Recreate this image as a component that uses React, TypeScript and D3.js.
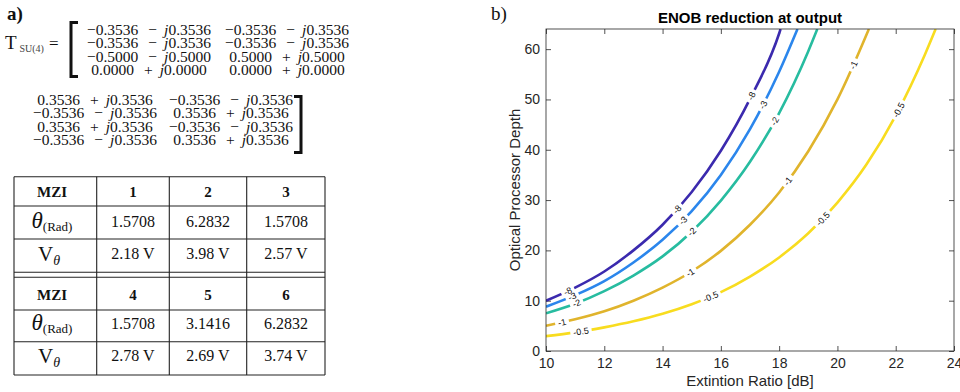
import * as d3 from "d3";
import { useEffect, useRef } from "react";

// ---- panel b data ----
const xTicks = [10, 12, 14, 16, 18, 20, 22, 24];
const yTicks = [0, 10, 20, 30, 40, 50, 60];

const levelNames = ["-8", "-3", "-2", "-1", "-0.5"];
const levelColors = ["#3b2aae", "#2b86ec", "#27bca0", "#e0b42c", "#f8dc1f"];

const erLevel8 = [10, 11, 12, 13, 14, 15, 16, 17, 18, 18.05];
const depthLevel8 = [10, 12.6, 15.8, 20.0, 25.1, 31.6, 39.8, 50.1, 63.1, 64];
const erLevel3 = [10, 11, 12, 13, 14, 15, 16, 17, 18, 18.63];
const depthLevel3 = [8.8, 11.1, 13.9, 17.6, 22.1, 27.8, 35.0, 44.1, 55.5, 64];
const erLevel2 = [10, 11, 12, 13, 14, 15, 16, 17, 18, 19, 19.31];
const depthLevel2 = [7.5, 9.4, 11.9, 15.0, 18.8, 23.7, 29.9, 37.6, 47.3, 59.6, 64];
const erLevel1 = [10, 11, 12, 13, 14, 15, 16, 17, 18, 19, 20, 21, 21.08];
const depthLevel1 = [5.0, 6.3, 7.9, 10.0, 12.6, 15.8, 19.9, 25.1, 31.5, 39.7, 50.0, 62.9, 64];
const erLevel05 = [10, 11, 12, 13, 14, 15, 16, 17, 18, 19, 20, 21, 22, 23, 23.37];
const depthLevel05 = [2.95, 3.7, 4.7, 5.9, 7.4, 9.3, 11.7, 14.8, 18.6, 23.4, 29.5, 37.1, 46.8, 58.9, 64];

const levelErs = [erLevel8, erLevel3, erLevel2, erLevel1, erLevel05];
const levelDepths = [depthLevel8, depthLevel3, depthLevel2, depthLevel1, depthLevel05];
// where the inline labels sit (extinction ratio)
const labelErs = [
	[10.75, 14.5, 17.05],
	[10.9, 14.7, 17.45],
	[11.05, 15.0, 17.85],
	[10.55, 14.95, 18.3, 20.55],
	[11.2, 15.65, 19.5, 22.1],
];

// ---- panel a data ----
const matrixLeft = [
	[["−0.3536", "−", "0.3536"], ["−0.3536", "−", "0.3536"]],
	[["−0.3536", "−", "0.3536"], ["−0.3536", "−", "0.3536"]],
	[["−0.5000", "−", "0.5000"], ["0.5000", "+", "0.5000"]],
	[["0.0000", "+", "0.0000"], ["0.0000", "+", "0.0000"]],
];
const matrixRight = [
	[["0.3536", "+", "0.3536"], ["−0.3536", "−", "0.3536"]],
	[["−0.3536", "−", "0.3536"], ["0.3536", "+", "0.3536"]],
	[["0.3536", "+", "0.3536"], ["−0.3536", "−", "0.3536"]],
	[["−0.3536", "−", "0.3536"], ["0.3536", "+", "0.3536"]],
];
const mziIds = [["1", "2", "3"], ["4", "5", "6"]];
const mziThetas = [["1.5708", "6.2832", "1.5708"], ["1.5708", "3.1416", "6.2832"]];
const mziVolts = [["2.18 V", "3.98 V", "2.57 V"], ["2.78 V", "2.69 V", "3.74 V"]];

const SERIF = "'Liberation Serif', 'Times New Roman', serif";
const SANS = "'Liberation Sans', Arial, Helvetica, sans-serif";

function Entry({ x, y, e }: { x: number; y: number; e: string[] }) {
	return (
		<text x={x} y={y} textAnchor="middle" fontSize={15.5}>
			<tspan>{e[0]}</tspan><tspan dx={10}>{e[1]}</tspan><tspan dx={7} fontStyle="italic">j</tspan><tspan>{e[2]}</tspan>
		</text>
	);
}

function PanelA() {
	const colX = [14, 96.7, 169.3, 246.7, 325];
	const colC = [52, 133, 208, 286];
	const tableTop = 176.7, tableBottom = 375;
	const halves = [
		{ lines: [176.7, 206, 239, 272.3], base: [197, 227, 259] },
		{ lines: [277.3, 310, 341.7, 375], base: [300, 329, 361] },
	];
	return (
		<g fontFamily={SERIF} fill="#111">
			<text x={7} y={20} fontSize={19} fontWeight="bold">a)</text>
			<text x={5} y={49} fontSize={19}>T</text>
			<text x={19.5} y={52} fontSize={10} fill="#444">SU(4)</text>
			<text x={49} y={49} fontSize={17}>=</text>
			<path d="M78,22.5H71V76.5H78" fill="none" stroke="#111" strokeWidth={3} />
			{matrixLeft.map((row, i) =>
				row.map((e, j) => <Entry key={`l${i}${j}`} x={[149, 287][j]} y={35 + i * 13.3} e={e} />)
			)}
			{matrixRight.map((row, i) =>
				row.map((e, j) => <Entry key={`r${i}${j}`} x={[95, 231][j]} y={105 + i * 13.3} e={e} />)
			)}
			<path d="M294,96.5H301V152.5H294" fill="none" stroke="#111" strokeWidth={3} />

			{colX.map((cx) => (
				<line key={cx} x1={cx} x2={cx} y1={tableTop} y2={tableBottom} stroke="#222" strokeWidth={1.1} />
			))}
			{halves.map((h, k) => (
				<g key={k}>
					{h.lines.map((ly) => (
						<line key={ly} x1={colX[0]} x2={colX[4]} y1={ly} y2={ly} stroke="#222" strokeWidth={1.1} />
					))}
					<text x={colC[0]} y={h.base[0]} textAnchor="middle" fontSize={15} fontWeight="bold">MZI</text>
					<text x={colC[0]} y={h.base[1] + 1} textAnchor="middle">
						<tspan fontSize={23} fontStyle="italic">θ</tspan><tspan fontSize={13} dy={3}>(Rad)</tspan>
					</text>
					<text x={colC[0] - 3} y={h.base[2] + 2} textAnchor="middle">
						<tspan fontSize={21}>V</tspan><tspan fontSize={14} fontStyle="italic" dy={4}>θ</tspan>
					</text>
					{mziIds[k].map((id, j) => (
						<text key={id} x={colC[j + 1]} y={h.base[0]} textAnchor="middle" fontSize={15} fontWeight="bold">{id}</text>
					))}
					{mziThetas[k].map((t, j) => (
						<text key={j} x={colC[j + 1]} y={h.base[1]} textAnchor="middle" fontSize={16}>{t}</text>
					))}
					{mziVolts[k].map((v, j) => (
						<text key={j} x={colC[j + 1]} y={h.base[2]} textAnchor="middle" fontSize={16}>{v}</text>
					))}
				</g>
			))}
		</g>
	);
}

export default function App() {
	const plotRef = useRef<SVGGElement>(null);

	useEffect(() => {
		if (!plotRef.current) return;
		const root = d3.select(plotRef.current);
		root.selectAll("*").remove();

		const left = 546, right = 954, top = 29, bottom = 351;
		const x = d3.scaleLinear().domain([10, 24]).range([left, right]);
		const y = d3.scaleLinear().domain([0, 64]).range([bottom, top]);
		const axisColor = "#262626";

		const defs = root.append("defs");
		defs.append("clipPath").attr("id", "plotClip")
			.append("rect").attr("x", left).attr("y", top)
			.attr("width", right - left).attr("height", bottom - top);

		// title and labels
		root.append("text")
			.attr("x", (left + right) / 2).attr("y", 23)
			.attr("text-anchor", "middle")
			.attr("font-family", SANS).attr("font-size", 15).attr("font-weight", "bold")
			.attr("fill", "#000")
			.text("ENOB reduction at output");

		root.append("text")
			.attr("x", 491).attr("y", 20)
			.attr("font-family", SERIF).attr("font-size", 19)
			.attr("fill", "#111")
			.text("b)");

		root.append("text")
			.attr("x", (left + right) / 2).attr("y", 386)
			.attr("text-anchor", "middle")
			.attr("font-family", SANS).attr("font-size", 15)
			.attr("fill", axisColor)
			.text("Extintion Ratio [dB]");

		root.append("text")
			.attr("transform", `translate(520,${(top + bottom) / 2}) rotate(-90)`)
			.attr("text-anchor", "middle")
			.attr("font-family", SANS).attr("font-size", 15)
			.attr("fill", axisColor)
			.text("Optical Processor Depth");

		// axes, ticks pointing inward on all four sides
		const styleAxis = (g: any) => {
			g.select(".domain").remove();
			g.selectAll("line").attr("stroke", axisColor).attr("stroke-width", 0.8);
			g.selectAll("text").attr("fill", axisColor).attr("font-family", SANS).attr("font-size", 14);
		};
		root.append("g").attr("transform", `translate(0,${bottom})`)
			.call(d3.axisBottom(x).tickValues(xTicks).tickSize(-5).tickPadding(7))
			.call(styleAxis);
		root.append("g").attr("transform", `translate(${left},0)`)
			.call(d3.axisLeft(y).tickValues(yTicks).tickSize(-5).tickPadding(6))
			.call(styleAxis);
		root.append("g").attr("transform", `translate(0,${top})`)
			.call(d3.axisTop(x).tickValues(xTicks).tickSize(-5).tickFormat(() => ""))
			.call(styleAxis);
		root.append("g").attr("transform", `translate(${right},0)`)
			.call(d3.axisRight(y).tickValues(yTicks).tickSize(-5).tickFormat(() => ""))
			.call(styleAxis);

		// contour lines
		const line = d3.line<[number, number]>()
			.x((d) => x(d[0]))
			.y((d) => y(d[1]))
			.curve(d3.curveMonotoneX);

		const curves = root.append("g").attr("clip-path", "url(#plotClip)");
		const labels = root.append("g");

		levelNames.forEach((name, i) => {
			const pts: [number, number][] = levelErs[i].map((er, k) => [er, levelDepths[i][k]]);
			const mask = defs.append("mask").attr("id", `lvlMask${i}`)
				.attr("maskUnits", "userSpaceOnUse")
				.attr("x", 0).attr("y", 0).attr("width", 960).attr("height", 392);
			mask.append("rect").attr("x", 0).attr("y", 0).attr("width", 960).attr("height", 392).attr("fill", "white");

			const path = curves.append("path")
				.attr("d", line(pts))
				.attr("fill", "none")
				.attr("stroke", levelColors[i])
				.attr("stroke-width", 2.6)
				.attr("mask", `url(#lvlMask${i})`);

			const node = path.node() as SVGPathElement;
			const total = node.getTotalLength();
			const lengthAtX = (px: number) => {
				let lo = 0, hi = total;
				for (let it = 0; it < 40; it++) {
					const mid = (lo + hi) / 2;
					if (node.getPointAtLength(mid).x < px) lo = mid; else hi = mid;
				}
				return (lo + hi) / 2;
			};

			labelErs[i].forEach((er) => {
				const len = lengthAtX(x(er));
				const p = node.getPointAtLength(len);
				const p1 = node.getPointAtLength(Math.max(0, len - 3));
				const p2 = node.getPointAtLength(Math.min(total, len + 3));
				const angle = (Math.atan2(p2.y - p1.y, p2.x - p1.x) * 180) / Math.PI;
				const t = labels.append("text")
					.attr("transform", `translate(${p.x},${p.y}) rotate(${angle})`)
					.attr("text-anchor", "middle")
					.attr("dy", "0.35em")
					.attr("font-family", SANS).attr("font-size", 9)
					.attr("fill", "#111")
					.text(name);
				const w = (t.node() as SVGTextElement).getComputedTextLength();
				mask.append("rect")
					.attr("transform", `translate(${p.x},${p.y}) rotate(${angle})`)
					.attr("x", -w / 2 - 3).attr("y", -6)
					.attr("width", w + 6).attr("height", 12)
					.attr("fill", "black");
			});
		});

		// box
		root.append("rect")
			.attr("x", left).attr("y", top)
			.attr("width", right - left).attr("height", bottom - top)
			.attr("fill", "none").attr("stroke", axisColor).attr("stroke-width", 0.8);
	}, []);

	return (
		<svg width={960} height={392} style={{ position: "absolute", left: 0, top: 0, background: "#fff" }}>
			<rect width={960} height={392} fill="#fff" />
			<PanelA />
			<g ref={plotRef} />
		</svg>
	);
}
